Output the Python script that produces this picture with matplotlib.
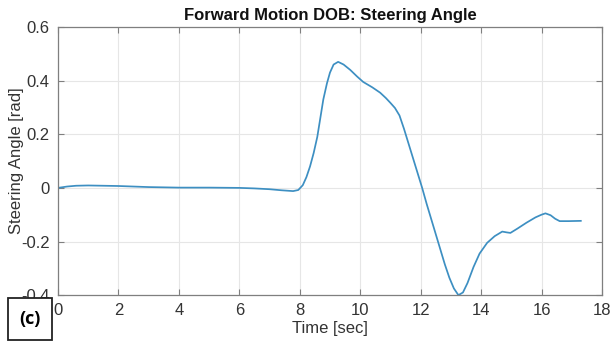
import numpy as np
import matplotlib
matplotlib.use("Agg")
import matplotlib.pyplot as plt
from matplotlib.patches import Rectangle

plt.rcParams['font.family'] = ['Liberation Sans', 'DejaVu Sans']

# steering angle trace (sec, rad)
time_s = [0.0, 0.3, 0.6, 1.0, 1.5, 2.0, 3.0, 4.0, 5.0, 6.0, 6.5, 7.0, 7.4,
          7.78, 7.95, 8.1, 8.22, 8.34, 8.46, 8.58, 8.68, 8.78, 8.9, 9.0,
          9.12, 9.27, 9.45, 9.67, 9.9, 10.1, 10.4, 10.66, 10.85, 11.0,
          11.15, 11.3, 11.45, 11.6, 11.75, 11.9, 12.05, 12.2, 12.4, 12.6,
          12.8, 12.95, 13.1, 13.25, 13.4, 13.55, 13.75, 13.95, 14.2, 14.45,
          14.7, 14.85, 14.97, 15.2, 15.5, 15.8, 16.0, 16.13, 16.3, 16.45,
          16.6, 16.9, 17.3]
angle_rad = [0.0, 0.005, 0.008, 0.009, 0.008, 0.007, 0.003, 0.001, 0.001,
             0.0, -0.002, -0.005, -0.009, -0.012, -0.008, 0.01, 0.04, 0.08,
             0.13, 0.19, 0.26, 0.33, 0.39, 0.43, 0.46, 0.47, 0.46, 0.44,
             0.415, 0.395, 0.375, 0.355, 0.335, 0.317, 0.298, 0.27, 0.22,
             0.165, 0.11, 0.055, 0.0, -0.06, -0.135, -0.21, -0.285, -0.335,
             -0.375, -0.4, -0.39, -0.355, -0.295, -0.245, -0.205, -0.18,
             -0.163, -0.166, -0.168, -0.152, -0.13, -0.11, -0.1, -0.095,
             -0.102, -0.115, -0.124, -0.124, -0.123]

x_ticks = np.arange(0, 19, 2)
y_ticks = [-0.4, -0.2, 0, 0.2, 0.4, 0.6]
y_tick_labels = ['-0.4', '-0.2', '0', '0.2', '0.4', '0.6']

fig = plt.figure(figsize=(6.13, 3.46), dpi=100)
ax = fig.add_axes([0.0946, 0.147, 0.8874, 0.775])

ax.plot(time_s, angle_rad, color='#3d8fc2', lw=1.25, solid_joinstyle='round')

ax.set_xlim(0, 18)
ax.set_ylim(-0.4, 0.6)
ax.set_xticks(x_ticks)
ax.set_yticks(y_ticks)
ax.set_yticklabels(y_tick_labels)
ax.grid(True, color='#e6e6e6', lw=0.8)
ax.set_axisbelow(True)
ax.tick_params(direction='in', length=4, width=0.8, colors='#7f7f7f',
               labelcolor='#333333', labelsize=12, top=True, right=True, pad=6)
for sp in ax.spines.values():
    sp.set_color('#7f7f7f')
    sp.set_linewidth(0.9)

ax.set_title('Forward Motion DOB: Steering Angle', fontsize=12,
             fontweight='bold', color='#111111', pad=5)
ax.set_xlabel('Time [sec]', fontsize=12, color='#333333', labelpad=2)
ax.set_ylabel('Steering Angle [rad]', fontsize=12, color='#333333')
ax.yaxis.set_label_coords(-0.063, 0.5)

# panel tag
fig.add_artist(Rectangle((0.013, 0.017), 0.072, 0.121, transform=fig.transFigure,
                         fc='white', ec='#222222', lw=1.3, zorder=5))
fig.text(0.049, 0.078, '(c)', fontsize=13, fontweight='bold', ha='center',
         va='center', family=['Open Sans', 'DejaVu Sans'], zorder=6)

fig.savefig('out.png', dpi=100)
